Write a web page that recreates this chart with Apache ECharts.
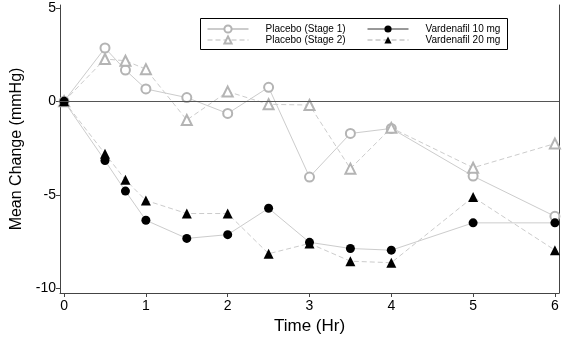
<!DOCTYPE html>
<html><head><meta charset="utf-8">
<script src="https://cdn.jsdelivr.net/npm/echarts@6/dist/echarts.min.js"></script>
<style>html,body{margin:0;padding:0;background:#fff}#c{width:574px;height:343px}</style>
</head><body><div id="c"></div>
<script>
const times = [0, 0.5, 0.75, 1, 1.5, 2, 2.5, 3, 3.5, 4, 5, 6];
const placeboStage1 = [0, 2.85, 1.67, 0.66, 0.2, -0.65, 0.75, -4.05, -1.72, -1.45, -4.0, -6.15];
const placeboStage2 = [0, 2.26, 2.17, 1.72, -1.0, 0.52, -0.16, -0.2, -3.6, -1.42, -3.55, -2.26];
const vard10 = [0, -3.17, -4.8, -6.36, -7.33, -7.13, -5.72, -7.54, -7.87, -7.96, -6.5, -6.5];
const vard20 = [0, -2.8, -4.2, -5.3, -6.0, -6.0, -8.15, -7.6, -8.55, -8.63, -5.12, -7.96];
const xTicks = [0, 1, 2, 3, 4, 5, 6];
const yTicks = [-10, -5, 0, 5];
const names = ['Placebo (Stage 1)', 'Placebo (Stage 2)', 'Vardenafil 10 mg', 'Vardenafil 20 mg'];

const pair = arr => times.map((t, i) => [t, arr[i]]);
const font = "'Liberation Sans', Arial, Helvetica, sans-serif";
const lineGray = '#cccccc';
const markGray = '#b4b4b4';

const chart = echarts.init(document.getElementById('c'), null, {renderer: 'canvas'});
const legendCommon = {
  orient: 'vertical', top: 24, padding: 0, itemGap: 1, itemWidth: 41, itemHeight: 9,
  textStyle: {fontFamily: font, fontSize: 10, color: '#000', padding: [0, 0, 0, 12]},
  selectedMode: false
};
chart.setOption({
  animation: false,
  backgroundColor: '#fff',
  graphic: [{type: 'rect', shape: {x: 200.5, y: 18.5, width: 307, height: 31}, style: {fill: 'none', stroke: '#000', lineWidth: 1}, silent: true}],
  legend: [
    Object.assign({}, legendCommon, {left: 207, data: [
      {name: names[0], lineStyle: {color: '#999', width: 1}, itemStyle: {borderWidth: 0.8}},
      {name: names[1], lineStyle: {color: '#bbb', width: 1}, itemStyle: {borderWidth: 0.8}}
    ]}),
    Object.assign({}, legendCommon, {left: 367, data: [
      {name: names[2], lineStyle: {color: '#333', width: 1}},
      {name: names[3], lineStyle: {color: '#aaa', width: 1}}
    ]})
  ],
  grid: {left: 60, right: 15, top: 5, bottom: 50},
  xAxis: {
    type: 'value', min: -0.05, max: 6.05,
    name: 'Time (Hr)', nameLocation: 'middle', nameGap: 24,
    nameTextStyle: {fontFamily: font, fontSize: 17, color: '#000'},
    axisLine: {show: true, onZero: false, lineStyle: {color: '#444', width: 1}},
    axisTick: {show: true, length: 4, customValues: xTicks, lineStyle: {color: '#444'}},
    axisLabel: {customValues: xTicks, fontFamily: font, fontSize: 14, color: '#000', margin: 6},
    splitLine: {show: false}
  },
  yAxis: [{
    type: 'value', min: -10.25, max: 5.15,
    name: 'Mean Change (mmHg)', nameLocation: 'middle', nameGap: 33,
    nameTextStyle: {fontFamily: font, fontSize: 16, color: '#000'},
    axisLine: {show: true, onZero: false, lineStyle: {color: '#444', width: 1}},
    axisTick: {show: true, length: 4, customValues: yTicks, lineStyle: {color: '#444'}},
    axisLabel: {customValues: yTicks, fontFamily: font, fontSize: 14, color: '#000', margin: 4},
    splitLine: {show: false}
  }, {
    type: 'value', min: -10.25, max: 5.15, position: 'right',
    axisLine: {show: true, onZero: false, lineStyle: {color: '#444', width: 1}},
    axisTick: {show: false}, axisLabel: {show: false}, splitLine: {show: false}
  }],
  series: [
    {name: names[0], type: 'line', data: pair(placeboStage1), symbol: 'emptyCircle', symbolSize: 9,
     itemStyle: {color: markGray, borderWidth: 0.8}, lineStyle: {color: lineGray, width: 1}, z: 2,
     markLine: {silent: true, symbol: 'none', label: {show: false}, lineStyle: {color: '#555', width: 1, type: 'solid'}, data: [{yAxis: 0}]}},
    {name: names[1], type: 'line', data: pair(placeboStage2), symbol: 'emptyTriangle', symbolSize: 10,
     itemStyle: {color: markGray, borderWidth: 0.8}, lineStyle: {color: lineGray, width: 1, type: [5, 3]}, z: 2},
    {name: names[2], type: 'line', data: pair(vard10), symbol: 'circle', symbolSize: 9,
     itemStyle: {color: '#000'}, lineStyle: {color: lineGray, width: 1}, z: 3},
    {name: names[3], type: 'line', data: pair(vard20), symbol: 'triangle', symbolSize: 10,
     itemStyle: {color: '#000'}, lineStyle: {color: lineGray, width: 1, type: [5, 3]}, z: 3}
  ]
});
</script></body></html>
